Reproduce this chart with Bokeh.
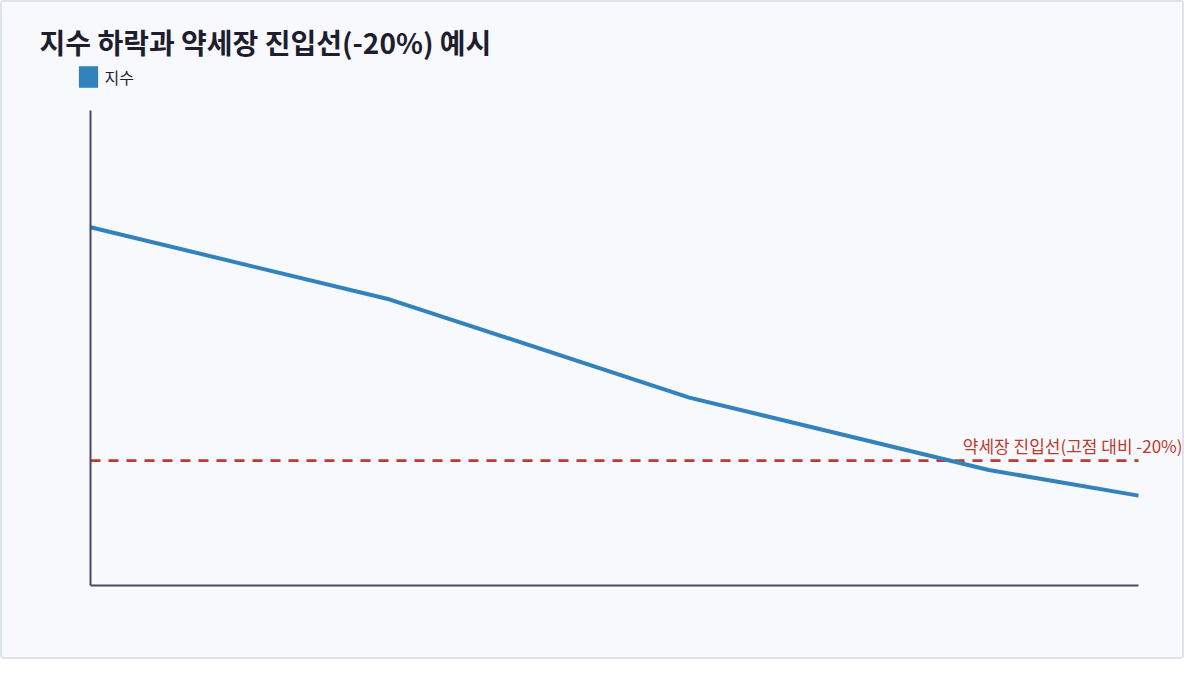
from bokeh.plotting import figure
from bokeh.models import Range1d, Label, Legend, LegendItem, ColumnDataSource
from bokeh.embed import file_html
from bokeh.resources import INLINE

# ---- data ----
periods = [0, 2, 4, 6, 7]
index_values = [100, 93.8, 85.4, 79.2, 77]
peak = max(index_values)
bear_threshold = peak * 0.8          # -20% from peak
series_label = "지수"
title_text = "지수 하락과 약세장 진입선(-20%) 예시"
threshold_label = "약세장 진입선(고점 대비 -20%)"

FONT = "Noto Sans CJK KR"
BLUE = "#3182bd"
RED = "#c0392b"
AXIS = "#4a4868"
BG = "#f7f9fd"
INK = "#1e1e2e"

# ---- layout (canvas pixels) ----
W, H = 1184, 659
PLOT_L, PLOT_R, PLOT_T, PLOT_B = 88, 1136, 108, 583   # plotting area inside the canvas

x0, x1 = min(periods), max(periods)
y0, y1 = min(index_values) * 0.9, peak * 1.1
sx = (PLOT_R - PLOT_L) / (x1 - x0)
sy = (PLOT_B - PLOT_T) / (y1 - y0)
xr = Range1d(x0 - PLOT_L / sx, x1 + (W - PLOT_R) / sx)
yr = Range1d(y0 - (H - PLOT_B) / sy, y1 + PLOT_T / sy)

def px_to_data(cx, cy):
    return xr.start + cx / sx, yr.end - cy / sy

p = figure(width=W, height=H, output_backend="svg", toolbar_location=None,
           x_range=xr, y_range=yr, min_border=0)
p.title.visible = False
p.background_fill_color = BG
p.border_fill_color = BG
p.outline_line_color = None
p.grid.visible = False
p.styles = {"border": "2px solid #dde3ec", "border-radius": "4px"}

p.xaxis.fixed_location = y0
p.xaxis.bounds = (x0, x1)
p.yaxis.fixed_location = x0
p.yaxis.bounds = (y0, y1)
for ax in (p.xaxis[0], p.yaxis[0]):
    ax.axis_line_color = AXIS
    ax.axis_line_width = 2
    ax.major_tick_line_color = None
    ax.minor_tick_line_color = None
    ax.major_label_text_color = None
    ax.major_label_text_font_size = "0px"

# threshold line (-20% from peak)
p.line([x0, x1], [bear_threshold, bear_threshold], line_color=RED,
       line_width=2.8, line_dash="10 8")

src = ColumnDataSource(dict(x=periods, y=index_values))
p.line("x", "y", source=src, line_color=BLUE, line_width=4)

p.add_layout(Label(x=x1, y=bear_threshold, x_offset=44, y_offset=15.5,
                   text=threshold_label, text_align="right", text_baseline="middle",
                   text_font=FONT, text_font_size="17px", text_color=RED))

# legend (square swatch): zero-area quad so the legend has a glyph to draw
swatch = p.quad(left=[x0], right=[x0], top=[y0], bottom=[y0],
                fill_color=BLUE, line_color=None)
legend = Legend(items=[LegendItem(label=series_label, renderers=[swatch])],
                location=(73.6, H - 88.3), glyph_width=24, glyph_height=27,
                padding=0, margin=0, spacing=0, border_line_color=None,
                background_fill_alpha=0,
                label_text_font=FONT, label_text_font_size="16px", label_text_color=INK,
                label_standoff=5)
p.add_layout(legend)

# title
tx, ty = px_to_data(37, 39)
p.add_layout(Label(x=tx, y=ty, text=title_text,
                   text_font=FONT, text_font_size="28px", text_font_style="bold",
                   text_color=INK, text_baseline="middle"))

open("out.html", "w").write(file_html(p, INLINE))
